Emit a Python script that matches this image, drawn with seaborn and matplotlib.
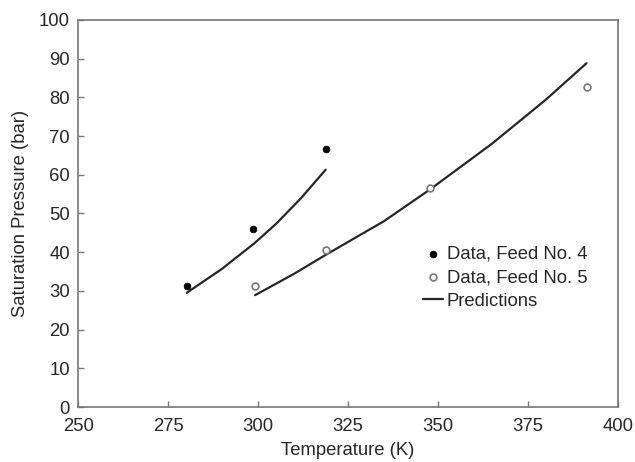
import numpy as np
import pandas as pd
import matplotlib
matplotlib.use("Agg")
import matplotlib.pyplot as plt
import seaborn as sns

# ---------------- Datos ----------------
feed4_T = [280.2, 298.7, 318.8]
feed4_P = [31.3, 45.9, 66.6]

feed5_T = [299.2, 318.8, 347.8, 391.3]
feed5_P = [31.3, 40.6, 56.5, 82.6]

pred4_T = [280.2, 290.0, 299.0, 305.0, 312.0, 318.8]
pred4_P = [29.5, 35.7, 42.3, 47.3, 54.0, 61.3]

pred5_T = [299.2, 310.0, 318.8, 335.0, 347.8, 365.0, 380.0, 391.3]
pred5_P = [28.9, 34.4, 39.3, 48.0, 56.2, 68.0, 79.4, 88.8]

sns.set_style("ticks")
plt.rcParams['font.family'] = ['Liberation Sans', 'DejaVu Sans']

fig = plt.figure(figsize=(6.35, 4.62), dpi=100)
ax = fig.add_axes([0.123, 0.119, 0.850, 0.838])

df4 = pd.DataFrame({'T': feed4_T, 'P': feed4_P})
df5 = pd.DataFrame({'T': feed5_T, 'P': feed5_P})
dl4 = pd.DataFrame({'T': pred4_T, 'P': pred4_P})
dl5 = pd.DataFrame({'T': pred5_T, 'P': pred5_P})

sns.lineplot(data=dl4, x='T', y='P', ax=ax, color='#262626', lw=1.6,
             sort=False, label='Predictions')
sns.lineplot(data=dl5, x='T', y='P', ax=ax, color='#262626', lw=1.6,
             sort=False, label='_nolegend_')
sns.scatterplot(data=df4, x='T', y='P', ax=ax, color='black', s=24,
                edgecolor='black', linewidth=0.5, label='Data, Feed No. 4', zorder=3)
sns.scatterplot(data=df5, x='T', y='P', ax=ax, facecolor='white', s=24,
                edgecolor='#777777', linewidth=1.2, label='Data, Feed No. 5', zorder=3)

ax.set_xlim(250, 400)
ax.set_ylim(0, 100)
ax.set_xticks(np.arange(250, 401, 25))
ax.set_yticks(np.arange(0, 101, 10))
ax.tick_params(direction='in', length=4, width=1, color='#777777',
               labelsize=13.3, top=False, right=False)
ax.tick_params(axis='x', pad=8)
ax.tick_params(axis='y', pad=6)
for s in ax.spines.values():
    s.set_color('#777777')
    s.set_linewidth(1.2)

ax.set_xlabel('Temperature (K)', fontsize=13.3, labelpad=5)
ax.set_ylabel('Saturation Pressure (bar)', fontsize=13.3, labelpad=7)

h, l = ax.get_legend_handles_labels()
order = [l.index('Data, Feed No. 4'), l.index('Data, Feed No. 5'), l.index('Predictions')]
ax.legend([h[i] for i in order], [l[i] for i in order], loc='center left',
          bbox_to_anchor=(0.625, 0.334), frameon=False, fontsize=13.3,
          handlelength=1.1, handletextpad=0.2, labelspacing=0.35, borderaxespad=0)

fig.savefig('out.png', dpi=100)
